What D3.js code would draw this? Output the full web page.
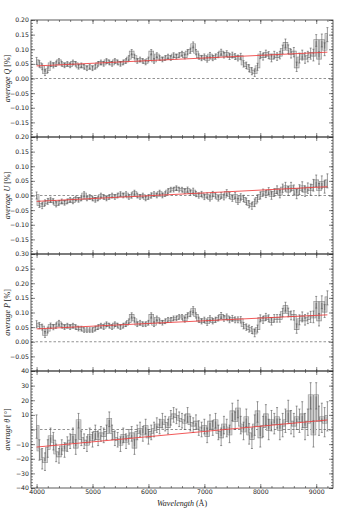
<!DOCTYPE html>
<html>
<head>
<meta charset="utf-8">
<script src="https://cdn.jsdelivr.net/npm/d3@7/dist/d3.min.js"></script>
<style>
  body { margin: 0; background: #fff; }
  .tick text { font-family: "DejaVu Sans", sans-serif; font-size: 6.2px; fill: #222; }
  .tick line { stroke: #333; stroke-width: 0.6; }
  .ylabel, .xlabel { font-family: "Liberation Serif", serif; font-size: 8px; fill: #222; }
</style>
</head>
<body>
<div id="chart"></div>
<script>
// bin centres (Angstrom)
var wave = d3.range(4000, 9201, 50);

// average Q [%]
var avgQ = [
  0.060, 0.050, 0.040, 0.020, 0.030, 0.050, 0.045, 0.050, 0.060, 0.050,
  0.045, 0.050, 0.045, 0.055, 0.050, 0.040, 0.045, 0.040, 0.035, 0.040,
  0.035, 0.040, 0.050, 0.055, 0.050, 0.060, 0.055, 0.050, 0.060, 0.055,
  0.050, 0.055, 0.060, 0.070, 0.090, 0.075, 0.060, 0.065, 0.060, 0.055,
  0.065, 0.090, 0.060, 0.080, 0.070, 0.065, 0.070, 0.075, 0.070, 0.080,
  0.075, 0.080, 0.085, 0.075, 0.090, 0.095, 0.115, 0.090, 0.075, 0.070,
  0.075, 0.065, 0.080, 0.070, 0.075, 0.080, 0.090, 0.080, 0.085, 0.075,
  0.080, 0.075, 0.070, 0.075, 0.050, 0.045, 0.035, 0.025, 0.020, 0.040,
  0.080, 0.075, 0.085, 0.080, 0.070, 0.080, 0.075, 0.080, 0.100, 0.120,
  0.100, 0.085, 0.090, 0.040, 0.070, 0.080, 0.070, 0.075, 0.085, 0.080,
  0.130, 0.070, 0.130, 0.100, 0.150
];

// average U [%]
var avgU = [
  0.000, -0.030, -0.035, -0.025, -0.020, -0.015, -0.020, -0.030, -0.025, -0.020,
  -0.025, -0.020, -0.015, -0.020, -0.010, -0.015, -0.010, 0.005, -0.010, -0.005,
  -0.010, -0.015, -0.010, 0.000, -0.005, -0.010, -0.005, 0.000, -0.005, 0.000,
  0.005, 0.000, 0.005, -0.005, 0.000, 0.010, 0.000, -0.005, 0.000, -0.010,
  -0.005, 0.000, 0.005, 0.000, 0.010, 0.000, 0.005, 0.015, 0.020, 0.020,
  0.025, 0.020, 0.020, 0.015, 0.020, 0.010, 0.015, 0.005, 0.000, 0.005,
  -0.005, 0.000, -0.010, 0.005, 0.000, -0.010, 0.000, -0.005, 0.010, 0.000,
  -0.010, 0.000, -0.020, -0.005, -0.010, -0.020, -0.030, -0.035, -0.025, -0.010,
  0.000, 0.010, 0.005, 0.015, 0.000, 0.010, 0.020, 0.005, 0.025, 0.030,
  0.015, 0.030, 0.020, 0.005, 0.020, 0.030, 0.015, 0.025, 0.020, 0.035,
  0.050, 0.020, 0.045, 0.030, 0.050
];

// average P [%]
var avgP = [
  0.060, 0.055, 0.050, 0.025, 0.040, 0.055, 0.050, 0.055, 0.065, 0.055,
  0.050, 0.055, 0.050, 0.055, 0.050, 0.045, 0.045, 0.040, 0.040, 0.040,
  0.040, 0.045, 0.050, 0.055, 0.050, 0.060, 0.055, 0.050, 0.060, 0.055,
  0.050, 0.055, 0.060, 0.070, 0.090, 0.075, 0.060, 0.065, 0.060, 0.060,
  0.065, 0.090, 0.060, 0.080, 0.070, 0.065, 0.070, 0.075, 0.075, 0.080,
  0.080, 0.085, 0.085, 0.075, 0.090, 0.095, 0.110, 0.090, 0.075, 0.070,
  0.075, 0.065, 0.080, 0.070, 0.075, 0.080, 0.090, 0.080, 0.085, 0.075,
  0.080, 0.075, 0.075, 0.075, 0.055, 0.050, 0.045, 0.040, 0.030, 0.045,
  0.080, 0.075, 0.085, 0.080, 0.070, 0.080, 0.080, 0.080, 0.100, 0.120,
  0.100, 0.090, 0.090, 0.045, 0.075, 0.085, 0.075, 0.080, 0.085, 0.085,
  0.135, 0.075, 0.135, 0.105, 0.150
];

// average theta [deg]
var avgTheta = [
  2, -14, -20, -22, -13, -5, -8, -16, -18, -12,
  -14, -10, -8, -4, -12, 6, -6, -8, -10, -4,
  -7, -2, -6, -3, -4, -2, 7, -2, -6, -7,
  -10, -4, -8, -5, -3, -12, -2, 0, -3, 2,
  -5, -2, 0, 3, 2, 6, 4, 2, 8, 10,
  9, 7, 6, 5, 10, 4, 3, 5, 1, 0,
  2, -4, 5, 1, 6, -2, -5, 3, 1, -3,
  12, 6, 14, 3, -1, 8, -3, -6, 3, 12,
  -5, 2, 10, 0, 6, 4, 8, 0, 3, 6,
  12, 5, 3, 8, 6, 10, 2, 5, 23, -3,
  23, 6, 8, 5, 9
];

// 1-sigma errors: polarisation [%] and angle [deg]
var errPol = [
  0.012, 0.011, 0.010, 0.010, 0.010, 0.009, 0.009, 0.009, 0.008, 0.008,
  0.008, 0.008, 0.008, 0.008, 0.008, 0.008, 0.008, 0.008, 0.008, 0.008,
  0.008, 0.008, 0.008, 0.008, 0.008, 0.008, 0.008, 0.008, 0.008, 0.008,
  0.008, 0.008, 0.008, 0.008, 0.009, 0.008, 0.008, 0.008, 0.008, 0.008,
  0.008, 0.009, 0.008, 0.008, 0.008, 0.008, 0.008, 0.008, 0.008, 0.008,
  0.008, 0.008, 0.008, 0.008, 0.009, 0.009, 0.010, 0.009, 0.009, 0.009,
  0.009, 0.009, 0.009, 0.009, 0.009, 0.009, 0.010, 0.010, 0.010, 0.010,
  0.010, 0.010, 0.010, 0.011, 0.011, 0.011, 0.012, 0.012, 0.013, 0.012,
  0.012, 0.012, 0.012, 0.012, 0.013, 0.013, 0.013, 0.013, 0.014, 0.015,
  0.015, 0.015, 0.016, 0.016, 0.017, 0.017, 0.018, 0.018, 0.019, 0.020,
  0.020, 0.021, 0.022, 0.022, 0.024
];

var errTheta = [
  8, 7, 7, 6, 6, 6, 6, 6, 5, 5,
  5, 5, 5, 5, 5, 5, 5, 5, 5, 5,
  5, 5, 5, 5, 5, 5, 5, 5, 5, 5,
  5, 5, 5, 5, 5, 5, 5, 5, 5, 5,
  5, 5, 5, 5, 5, 5, 5, 5, 5, 5,
  5, 5, 5, 5, 5, 5, 5, 5, 5, 5,
  5, 5, 5, 5, 5, 5, 6, 6, 6, 6,
  6, 6, 6, 6, 6, 6, 7, 7, 7, 7,
  7, 7, 7, 7, 7, 7, 7, 7, 8, 8,
  8, 8, 8, 8, 8, 9, 9, 9, 9, 9,
  9, 10, 10, 10, 10
];

// linear fits, evaluated at the end points
var fitWave = [4000, 9200];
var fitQ = [0.043, 0.090];
var fitU = [-0.020, 0.030];
var fitP = [0.044, 0.092];
var fitTheta = [-12, 6.5];

var xTicks = [4000, 5000, 6000, 7000, 8000, 9000];

function spectraPanels() {
  var width = 354;
  var height = 511;
  var left = 31, right = 333, top = 20, panelHeight = 117;

  var x = d3.scaleLinear()
    .domain([3900, 9300])
    .range([left, right]);

  var panels = [
    { name: "Q", unit: "[%]", values: avgQ, err: errPol, fit: fitQ, domain: [-0.2, 0.2], fmt: ".2f", skip: -0.2 },
    { name: "U", unit: "[%]", values: avgU, err: errPol, fit: fitU, domain: [-0.2, 0.2], fmt: ".2f", skip: -0.2 },
    { name: "P", unit: "[%]", values: avgP, err: errPol, fit: fitP, domain: [-0.1, 0.3], fmt: ".2f", skip: -0.1 },
    { name: "\u03b8", unit: "[\u00b0]", values: avgTheta, err: errTheta, fit: fitTheta, domain: [-40, 40], fmt: "d", skip: null }
  ];

  var svg = d3.select("#chart")
    .append("svg")
      .attr("width", width)
      .attr("height", height);

  panels.forEach(function(p, i) {
    var y0 = top + i * panelHeight;
    var y1 = y0 + panelHeight;
    var y = d3.scaleLinear()
      .domain(p.domain)
      .range([y1, y0]);

    var g = svg.append("g").attr("class", "panel");

    var clipId = "clip" + i;
    g.append("clipPath")
      .attr("id", clipId)
      .append("rect")
        .attr("x", left)
        .attr("y", y0)
        .attr("width", right - left)
        .attr("height", panelHeight);

    var plot = g.append("g").attr("clip-path", "url(#" + clipId + ")");

    // zero line
    plot.append("line")
      .attr("x1", left).attr("x2", right)
      .attr("y1", y(0)).attr("y2", y(0))
      .attr("stroke", "#777")
      .attr("stroke-width", 0.8)
      .attr("stroke-dasharray", "2.5,2");

    var rows = wave.map(function(w, j) {
      return { w: w, v: p.values[j], e: p.err[j] };
    });

    var step = d3.line()
      .curve(d3.curveStep)
      .x(function(d) { return x(d.w); })
      .y(function(d) { return y(d.v); });

    // binned values as an outlined step line
    plot.append("path")
      .datum(rows)
      .attr("d", step)
      .attr("fill", "none")
      .attr("stroke", "#8e8e8e")
      .attr("stroke-width", 2.7);

    plot.append("path")
      .datum(rows)
      .attr("d", step)
      .attr("fill", "none")
      .attr("stroke", "#d8d8d8")
      .attr("stroke-width", 1.5);

    // error bars
    var bars = plot.append("g")
      .attr("stroke", "#555")
      .attr("stroke-width", 0.6);

    bars.selectAll("line.err")
      .data(rows)
      .enter().append("line")
        .attr("class", "err")
        .attr("x1", function(d) { return x(d.w); })
        .attr("x2", function(d) { return x(d.w); })
        .attr("y1", function(d) { return y(d.v - d.e); })
        .attr("y2", function(d) { return y(d.v + d.e); });

    bars.selectAll("line.cap")
      .data(rows.concat(rows).map(function(d, k) {
        return { w: d.w, yv: k < rows.length ? d.v - d.e : d.v + d.e };
      }))
      .enter().append("line")
        .attr("class", "cap")
        .attr("x1", function(d) { return x(d.w) - 1; })
        .attr("x2", function(d) { return x(d.w) + 1; })
        .attr("y1", function(d) { return y(d.yv); })
        .attr("y2", function(d) { return y(d.yv); });

    // fit
    plot.append("line")
      .attr("x1", x(fitWave[0])).attr("x2", x(fitWave[1]))
      .attr("y1", y(p.fit[0])).attr("y2", y(p.fit[1]))
      .attr("stroke", "#f03c3c")
      .attr("stroke-opacity", 0.85)
      .attr("stroke-width", 1);

    // y axes, ticks pointing inwards
    var fmt = d3.format(p.fmt);
    var majorY = d3.ticks(p.domain[0], p.domain[1], 8);
    var minorY = d3.ticks(p.domain[0], p.domain[1], 40);

    g.append("g")
      .attr("transform", "translate(" + left + ",0)")
      .call(d3.axisLeft(y).tickValues(minorY).tickSize(-2).tickFormat(""))
      .call(function(a) { a.select(".domain").remove(); });

    g.append("g")
      .attr("transform", "translate(" + left + ",0)")
      .call(d3.axisLeft(y).tickValues(majorY).tickSize(-4).tickPadding(2)
        .tickFormat(function(d) { return Math.abs(d - p.skip) < 1e-9 ? "" : fmt(d); }))
      .call(function(a) { a.select(".domain").remove(); });

    g.append("g")
      .attr("transform", "translate(" + right + ",0)")
      .call(d3.axisRight(y).tickValues(minorY).tickSize(-2).tickFormat(""))
      .call(function(a) { a.select(".domain").remove(); });

    g.append("g")
      .attr("transform", "translate(" + right + ",0)")
      .call(d3.axisRight(y).tickValues(majorY).tickSize(-4).tickFormat(""))
      .call(function(a) { a.select(".domain").remove(); });

    // x ticks top and bottom
    var minorX = d3.range(4000, 9300, 200);
    var isLast = i === panels.length - 1;

    [[y0, d3.axisTop, false], [y1, d3.axisBottom, isLast]].forEach(function(s) {
      g.append("g")
        .attr("transform", "translate(0," + s[0] + ")")
        .call(s[1](x).tickValues(minorX).tickSize(-2).tickFormat(""))
        .call(function(a) { a.select(".domain").remove(); });
      g.append("g")
        .attr("transform", "translate(0," + s[0] + ")")
        .call(s[1](x).tickValues(xTicks).tickSize(-4).tickPadding(2)
          .tickFormat(s[2] ? d3.format("d") : ""))
        .call(function(a) { a.select(".domain").remove(); });
    });

    // frame
    g.append("rect")
      .attr("x", left)
      .attr("y", y0)
      .attr("width", right - left)
      .attr("height", panelHeight)
      .attr("fill", "none")
      .attr("stroke", "#333")
      .attr("stroke-width", 0.8);

    // y label
    var lab = g.append("text")
      .attr("class", "ylabel")
      .attr("text-anchor", "middle")
      .attr("transform", "translate(9.5," + (y0 + panelHeight / 2) + ") rotate(-90)");

    lab.append("tspan")
      .attr("font-style", "italic")
      .text("average " + p.name);
    lab.append("tspan")
      .text(" " + p.unit);
  });

  var xl = svg.append("text")
    .attr("class", "xlabel")
    .attr("text-anchor", "middle")
    .attr("x", (left + right) / 2)
    .attr("y", 506);

  xl.append("tspan").attr("font-style", "italic").text("Wavelength");
  xl.append("tspan").text(" (\u00c5)");
}

spectraPanels();
</script>
</body>
</html>
